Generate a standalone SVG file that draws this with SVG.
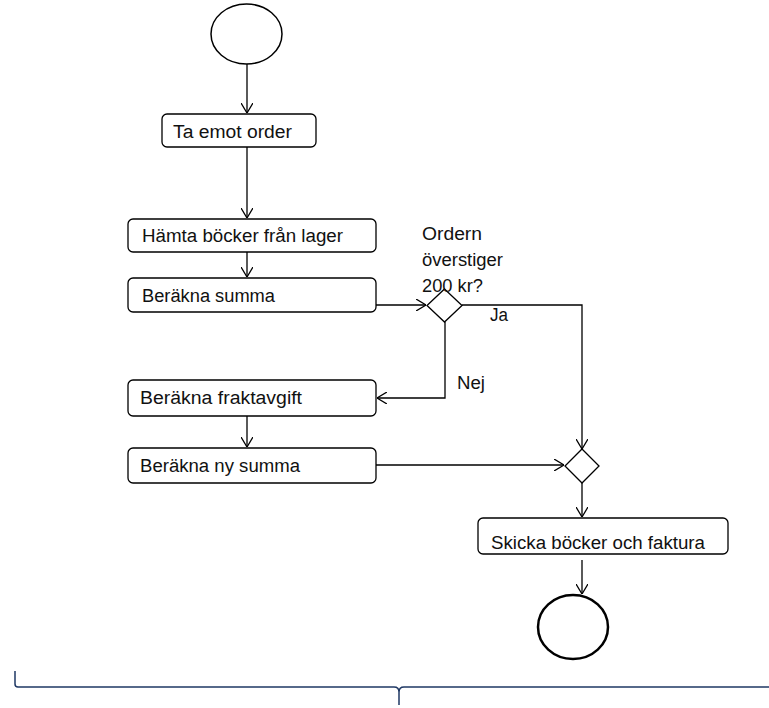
<svg xmlns="http://www.w3.org/2000/svg" width="769" height="708" viewBox="0 0 769 708">
<defs>
<marker id="arr" viewBox="0 0 10 12" refX="10" refY="6" markerWidth="10" markerHeight="12" markerUnits="userSpaceOnUse" orient="auto">
<path d="M0,0 L10,6 L0,12" fill="none" stroke="#000" stroke-width="1.3"/>
</marker>
<style>
.box{fill:#fff;stroke:#000;stroke-width:1.3}
.dia{fill:#fff;stroke:#000;stroke-width:1.3}
.t{font-family:"Liberation Sans",Arial,sans-serif;font-size:18px;fill:#111}
.c{fill:none;stroke:#000;stroke-width:1.3;marker-end:url(#arr)}
</style>
</defs>
<rect width="769" height="708" fill="#fff"/>
<g id="connectors">
<path class="c" d="M247,64 L247,113"/>
<path class="c" d="M247,147 L247,218"/>
<path class="c" d="M247,252 L247,277"/>
<path class="c" d="M376,305 L426,305"/>
<path class="c" d="M462,305 L582,305 L582,449"/>
<path class="c" d="M445,322 L445,398 L377,398"/>
<path class="c" d="M247,416 L247,447"/>
<path class="c" d="M376,465 L564,465"/>
<path class="c" d="M582,483 L582,517"/>
<path class="c" d="M582,560 L582,594"/>
</g>
<g id="start"><ellipse cx="246.5" cy="34" rx="35.5" ry="30" fill="#fff" stroke="#000" stroke-width="1.5"/></g>
<g id="n1"><rect class="box" x="162" y="114" width="154" height="33" rx="5"/><text class="t" x="173" y="138" textLength="119" lengthAdjust="spacingAndGlyphs">Ta emot order</text></g>
<g id="n2"><rect class="box" x="128" y="219" width="248" height="33" rx="5"/><text class="t" x="142" y="242" textLength="201" lengthAdjust="spacingAndGlyphs">Hämta böcker från lager</text></g>
<g id="n3"><rect class="box" x="128" y="278" width="248" height="34" rx="5"/><text class="t" x="142" y="302" textLength="133" lengthAdjust="spacingAndGlyphs">Beräkna summa</text></g>
<g id="d1"><path class="dia" d="M444.5,289 L462,305.5 L444.5,322 L427,305.5 Z"/>
<text class="t" x="422" y="240" textLength="60" lengthAdjust="spacingAndGlyphs">Ordern</text>
<text class="t" x="422" y="266" textLength="81" lengthAdjust="spacingAndGlyphs">överstiger</text>
<text class="t" x="422" y="292" textLength="61" lengthAdjust="spacingAndGlyphs">200 kr?</text>
</g>
<text class="t" x="490" y="321" textLength="18" lengthAdjust="spacingAndGlyphs">Ja</text>
<text class="t" x="457" y="389" textLength="28" lengthAdjust="spacingAndGlyphs">Nej</text>
<g id="n4"><rect class="box" x="128" y="380" width="248" height="36" rx="5"/><text class="t" x="140" y="404" textLength="162" lengthAdjust="spacingAndGlyphs">Beräkna fraktavgift</text></g>
<g id="n5"><rect class="box" x="128" y="448" width="248" height="35" rx="5"/><text class="t" x="140" y="472" textLength="160" lengthAdjust="spacingAndGlyphs">Beräkna ny summa</text></g>
<g id="d2"><path class="dia" d="M582,449 L599,466 L582,483 L565,466 Z"/></g>
<g id="n6"><rect class="box" x="478" y="518" width="250" height="36" rx="5"/><text class="t" x="491" y="549" textLength="214" lengthAdjust="spacingAndGlyphs">Skicka böcker och faktura</text></g>
<g id="end"><ellipse cx="573" cy="627" rx="35" ry="32" fill="#fff" stroke="#000" stroke-width="2.5"/></g>
<g id="brace"><path d="M15,671 L15,684 Q15,687 18,687 L394,687 Q399,687 399,692 L399,705 M399,705 L399,692 Q399,687 404,687 L769,687" fill="none" stroke="#1F3864" stroke-width="1.5"/></g>
</svg>
